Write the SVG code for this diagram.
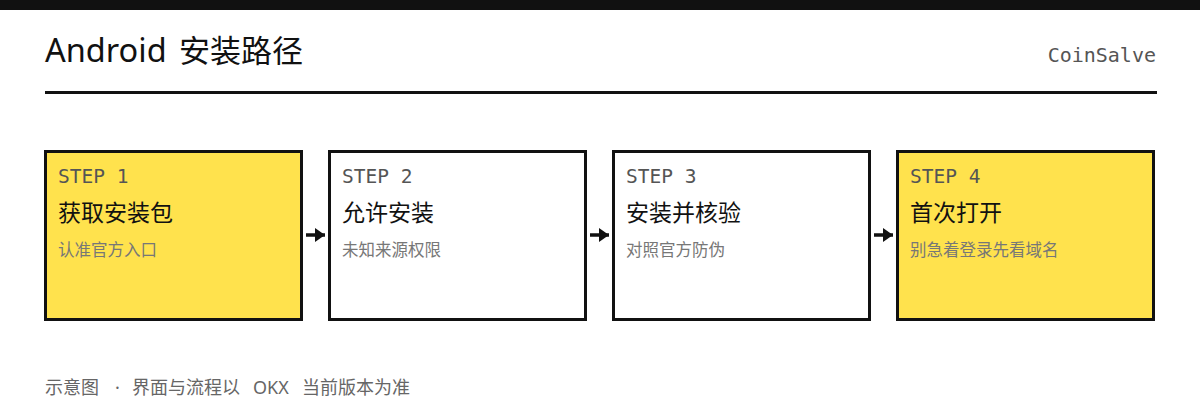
<svg xmlns="http://www.w3.org/2000/svg" width="1200" height="420" viewBox="0 0 1200 420">
<style>
.title{font-family:"Noto Sans","Noto Sans CJK SC",sans-serif;font-size:31px;fill:#111}
.brand{font-family:"DejaVu Sans Mono",monospace;font-size:20px;fill:#555}
.box{stroke:#111;stroke-width:3}
.y{fill:#FFE24D}
.w{fill:#fff}
.step{font-family:"DejaVu Sans Mono",monospace;font-size:19.5px;fill:#555}
.name{font-family:"Noto Sans CJK SC",sans-serif;font-size:23px;fill:#111}
.sub{font-family:"Noto Sans CJK SC",sans-serif;font-size:16.5px;fill:#777}
.foot{font-family:"Noto Sans","Noto Sans CJK SC",sans-serif;font-size:18px;fill:#666}
.conn{stroke:#111;stroke-width:3.5;fill:none}
</style>
<defs>
<marker id="ah" markerWidth="12" markerHeight="14" refX="10" refY="7" orient="auto" markerUnits="userSpaceOnUse">
<path d="M0,0 L10,7 L0,14 Z" fill="#111"/>
</marker>
</defs>
<rect x="0" y="0" width="1200" height="420" fill="#fff"/>
<rect x="0" y="0" width="1200" height="10" fill="#111"/>
<text class="title" y="62"><tspan x="45" font-size="32.5px">Android</tspan><tspan x="179">安装路径</tspan></text>
<text class="brand" x="1156" y="62" text-anchor="end">CoinSalve</text>
<rect x="45" y="91" width="1112" height="3" fill="#111"/>
<g id="connectors">
<line class="conn" x1="306" y1="235" x2="325" y2="235" marker-end="url(#ah)"/>
<line class="conn" x1="590" y1="235" x2="609" y2="235" marker-end="url(#ah)"/>
<line class="conn" x1="874" y1="235" x2="893" y2="235" marker-end="url(#ah)"/>
</g>
<g id="step1">
<rect class="box y" x="45.5" y="151.5" width="256" height="168"/>
<text class="step" x="58" y="183">STEP 1</text>
<text class="name" x="58" y="221">获取安装包</text>
<text class="sub" x="58" y="256">认准官方入口</text>
</g>
<g id="step2">
<rect class="box w" x="329.5" y="151.5" width="256" height="168"/>
<text class="step" x="342" y="183">STEP 2</text>
<text class="name" x="342" y="221">允许安装</text>
<text class="sub" x="342" y="256">未知来源权限</text>
</g>
<g id="step3">
<rect class="box w" x="613.5" y="151.5" width="256" height="168"/>
<text class="step" x="626" y="183">STEP 3</text>
<text class="name" x="626" y="221">安装并核验</text>
<text class="sub" x="626" y="256">对照官方防伪</text>
</g>
<g id="step4">
<rect class="box y" x="897.5" y="151.5" width="256" height="168"/>
<text class="step" x="910" y="183">STEP 4</text>
<text class="name" x="910" y="221">首次打开</text>
<text class="sub" x="910" y="256">别急着登录先看域名</text>
</g>
<text class="foot" y="394"><tspan x="45">示意图</tspan><tspan x="115">·</tspan><tspan x="132">界面与流程以</tspan><tspan x="253">OKX</tspan><tspan x="302">当前版本为准</tspan></text>
</svg>
